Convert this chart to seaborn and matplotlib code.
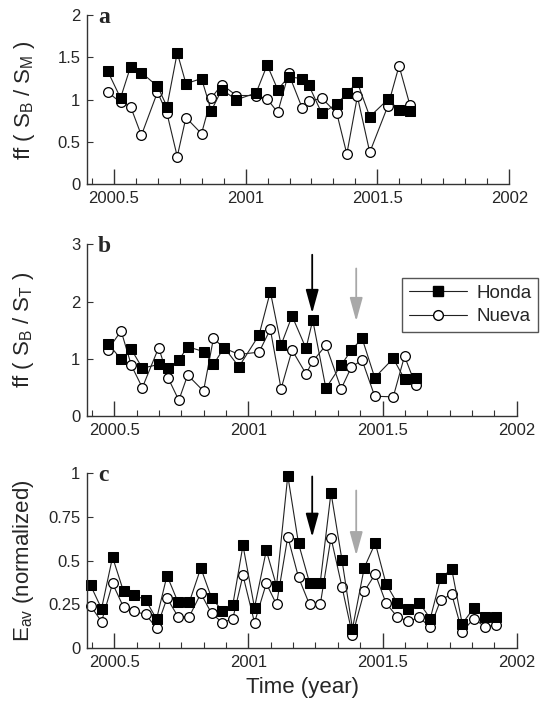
import matplotlib
matplotlib.use("Agg")
import matplotlib.pyplot as plt
import seaborn as sns
from matplotlib.ticker import MultipleLocator, FixedLocator
from matplotlib.lines import Line2D

# sampling dates (decimal year), panels a and b share them
dates_ab = [2000.477, 2000.526, 2000.564, 2000.605, 2000.666, 2000.702, 2000.741, 2000.774,
            2000.833, 2000.870, 2000.910, 2000.965, 2001.040, 2001.082, 2001.122, 2001.163,
            2001.215, 2001.240, 2001.289, 2001.346, 2001.384, 2001.424, 2001.471, 2001.540,
            2001.582, 2001.623]

# panel a : ff(SB/SM)
honda_a = [1.34, 1.02, 1.39, 1.32, 1.16, 0.92, 1.555, 1.19, 1.25, 0.87, 1.12, 1.0, 1.08,
           1.41, 1.12, 1.27, 1.25, 1.17, 0.84, 0.95, 1.075, 1.205, 0.80, 1.005, 0.88, 0.87]
nueva_a = [1.09, 0.97, 0.92, 0.58, 1.09, 0.84, 0.33, 0.79, 0.60, 1.02, 1.18, 1.05, 1.05,
           1.01, 0.85, 1.31, 0.90, 0.98, 1.02, 0.84, 0.36, 1.04, 0.38, 0.93, 1.40, 0.94]

# panel b : ff(SB/ST)
honda_b = [1.27, 0.995, 1.17, 0.84, 0.905, 0.84, 0.98, 1.215, 1.13, 0.905, 1.2, 0.865, 1.42,
           2.175, 1.245, 1.75, 1.185, 1.68, 0.49, 0.895, 1.155, 1.36, 0.675, 1.01, 0.65, 0.665]
nueva_b = [1.165, 1.49, 0.89, 0.5, 1.2, 0.66, 0.28, 0.72, 0.44, 1.36, 1.19, 1.08, 1.12,
           1.52, 0.48, 1.155, 0.74, 0.96, 1.24, 0.48, 0.86, 0.98, 0.35, 0.34, 1.05, 0.55]

# panel c : Eav (normalized)
dates_c = [2000.412, 2000.453, 2000.494, 2000.535, 2000.574, 2000.617, 2000.658, 2000.697,
           2000.738, 2000.780, 2000.823, 2000.863, 2000.903, 2000.942, 2000.980, 2001.023,
           2001.067, 2001.105, 2001.147, 2001.187, 2001.228, 2001.268, 2001.308, 2001.349,
           2001.388, 2001.432, 2001.473, 2001.513, 2001.554, 2001.596, 2001.637, 2001.678,
           2001.717, 2001.758, 2001.797, 2001.840, 2001.882, 2001.922]
honda_c = [0.36, 0.226, 0.52, 0.325, 0.303, 0.277, 0.167, 0.415, 0.263, 0.263, 0.458, 0.287,
           0.215, 0.247, 0.587, 0.232, 0.558, 0.356, 0.985, 0.598, 0.375, 0.375, 0.888, 0.503,
           0.112, 0.46, 0.60, 0.369, 0.26, 0.226, 0.26, 0.17, 0.402, 0.451, 0.14, 0.23, 0.177, 0.18]
nueva_c = [0.243, 0.152, 0.37, 0.235, 0.21, 0.194, 0.116, 0.286, 0.181, 0.181, 0.313, 0.199,
           0.147, 0.168, 0.416, 0.147, 0.37, 0.25, 0.636, 0.405, 0.25, 0.25, 0.631, 0.35,
           0.075, 0.325, 0.424, 0.258, 0.181, 0.154, 0.176, 0.12, 0.277, 0.308, 0.094, 0.17, 0.122, 0.134]

# arrows (x, top, tip)
arrows_b = [(2001.238, 2.82, 1.80, "black"), (2001.402, 2.58, 1.66, "#a8a8a8")]
arrows_c = [(2001.238, 0.98, 0.635, "black"), (2001.402, 0.90, 0.53, "#a8a8a8")]

sns.set_style("ticks")
plt.rcParams["font.family"] = ["Liberation Sans", "DejaVu Sans"]
plt.rcParams["mathtext.default"] = "regular"

fig = plt.figure(figsize=(5.44, 7.05), dpi=100)
ax_a = fig.add_axes([0.1605, 0.7383, 0.7757, 0.2404])
ax_b = fig.add_axes([0.1605, 0.4095, 0.7893, 0.2438])
ax_c = fig.add_axes([0.1605, 0.0804, 0.7893, 0.2487])

line_kw = dict(color="#222222", lw=0.8, estimator=None, clip_on=False, markersize=7)


def draw(ax, x, honda, nueva):
    sns.lineplot(x=x, y=nueva, ax=ax, marker="o", markerfacecolor="white",
                 markeredgecolor="black", markeredgewidth=0.9, **line_kw)
    sns.lineplot(x=x, y=honda, ax=ax, marker="s", markerfacecolor="black",
                 markeredgecolor="black", **line_kw)


draw(ax_a, dates_ab, honda_a, nueva_a)
draw(ax_b, dates_ab, honda_b, nueva_b)
draw(ax_c, dates_c, honda_c, nueva_c)

setup = [
    (ax_a, (0, 2), [0, 0.5, 1, 1.5, 2], ["0", "0.5", "1", "1.5", "2"], "ff ( $S_B$ / $S_M$ )", "a"),
    (ax_b, (0, 3), [0, 1, 2, 3], ["0", "1", "2", "3"], "ff ( $S_B$ / $S_T$ )", "b"),
    (ax_c, (0, 1), [0, 0.25, 0.5, 0.75, 1], ["0", "0.25", "0.5", "0.75", "1"], "$E_{av}$ (normalized)", "c"),
]
for ax, ylim, yt, ytl, ylab, letter in setup:
    ax.set_xlim(2000.4, 2002)
    ax.set_ylim(*ylim)
    ax.xaxis.set_major_locator(FixedLocator([2000.5, 2001, 2001.5, 2002]))
    ax.set_xticklabels(["2000.5", "2001", "2001.5", "2002"])
    ax.xaxis.set_minor_locator(MultipleLocator(1 / 12))
    ax.set_yticks(yt)
    ax.set_yticklabels(ytl)
    ax.tick_params(axis="x", which="major", direction="in", length=11, width=1, pad=5,
                   labelsize=12, color="#333333")
    ax.tick_params(axis="x", which="minor", direction="in", length=4, width=0.8, color="#333333")
    ax.tick_params(axis="y", direction="in", length=4, width=0.8, pad=5, labelsize=12,
                   color="#333333")
    sns.despine(ax=ax)
    for sp in ["left", "bottom"]:
        ax.spines[sp].set_color("#333333")
        ax.spines[sp].set_linewidth(1.0)
    ax.set_xlabel("")
    ax.set_ylabel(ylab, fontsize=16)
    ax.yaxis.set_label_coords(-0.12, 0.5)
    ax.text(0.025, 0.955, letter, transform=ax.transAxes, fontsize=17, fontweight="bold",
            family="Liberation Serif", va="baseline", ha="left")

for ax, arrs in [(ax_b, arrows_b), (ax_c, arrows_c)]:
    for x, top, tip, col in arrs:
        ax.annotate("", xy=(x, tip), xytext=(x, top),
                    arrowprops=dict(arrowstyle="-|>,head_length=0.8,head_width=0.22",
                                    color=col, lw=1.3, mutation_scale=18, shrinkA=0, shrinkB=0))

ax_c.set_xlabel("Time (year)", fontsize=16, labelpad=5)

handles = [
    Line2D([], [], color="#222222", lw=0.8, marker="s", markersize=7,
           markerfacecolor="black", markeredgecolor="black"),
    Line2D([], [], color="#222222", lw=0.8, marker="o", markersize=7,
           markerfacecolor="white", markeredgecolor="black"),
]
leg = ax_b.legend(handles, ["Honda", "Nueva"], loc="upper right", fontsize=13.5,
                  bbox_to_anchor=(538 / 544, 1 - 278 / 705), bbox_transform=fig.transFigure,
                  borderaxespad=0, handlelength=3.1, fancybox=False, framealpha=1,
                  labelspacing=0.35, borderpad=0.35, handletextpad=0.5)
leg.get_frame().set_edgecolor("#555555")
leg.get_frame().set_linewidth(1.0)

fig.savefig("out.png", dpi=100)
